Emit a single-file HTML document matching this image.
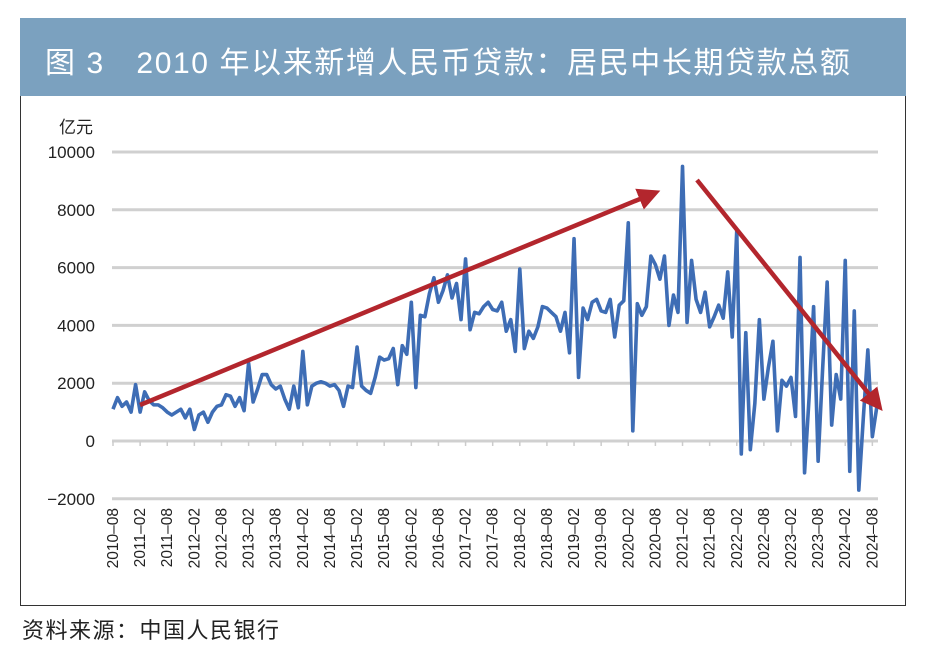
<!DOCTYPE html>
<html><head><meta charset="utf-8"><style>
body{margin:0;width:925px;height:661px;background:#fff;position:relative;overflow:hidden;font-family:"Liberation Sans","Noto Sans CJK SC",sans-serif}
#band{position:absolute;left:20px;top:18px;width:886px;height:78px;background:#7ba1bf}
#title{position:absolute;left:25px;top:20px;color:#fff;font-size:30px;letter-spacing:1.6px;white-space:nowrap}
#frame{position:absolute;left:20px;top:96px;width:884px;height:509px;border:1.5px solid #333;border-top:none}
#src{position:absolute;left:22px;top:613px;font-size:22px;letter-spacing:1.5px;color:#222}
</style></head><body>
<div id="band"><div id="title">图 3　2010 年以来新增人民币贷款：居民中长期贷款总额</div></div>
<div id="frame"></div>
<svg id="chart" width="925" height="661" style="position:absolute;left:0;top:0">
<defs><marker id="ah" markerWidth="5" markerHeight="5" refX="3" refY="2.5" orient="auto" markerUnits="strokeWidth"><path d="M0,0 L5,2.5 L0,5 z" fill="#b3262d"/></marker></defs>
</svg>
<div id="src">资料来源：中国人民银行</div>
<script>
const yTicks=[-2000,0,2000,4000,6000,8000,10000];
const values=[1100,1500,1200,1350,1000,1950,1000,1700,1400,1250,1250,1150,1000,900,1000,1100,800,1100,400,900,1000,650,1000,1200,1250,1600,1550,1200,1500,1050,2700,
1350,1800,2300,2300,1950,1800,1900,1450,1100,1900,1150,3100,
1250,1900,2000,2050,2000,1900,1950,1750,1200,1900,1850,3250,
1900,1750,1650,2200,2900,2800,2850,3200,1950,3300,3000,4800,
1850,4350,4300,5100,5650,4800,5200,5750,4950,5450,4200,6300,
3850,4450,4400,4650,4800,4550,4500,4800,3800,4200,3100,5950,
3200,3800,3550,3950,4650,4600,4450,4300,3800,4450,3050,7000,
2200,4600,4200,4800,4900,4500,4450,4900,3600,4700,4850,7550,350,
4750,4350,4650,6400,6100,5600,6400,4000,5050,4450,9500,
4100,6250,4900,4450,5150,3950,4300,4700,4250,5850,3600,7300,
-450,3750,-300,1300,4200,1450,2550,3450,350,2100,1900,2200,850,
6350,-1100,1500,4650,-700,2500,5500,550,2300,1450,6250,-1050,4500,-1700,800,3150,150,1200];
const xLabels=[];
for(let y=2010;y<=2024;y++){if(y>2010)xLabels.push(y+'-02');xLabels.push(y+'-08');}
const startMonth=[2010,8];
const X0=113,DX=4.52,Y0=441,YS=57.8/2000;
const xs=i=>X0+i*DX, ys=v=>Y0-v*YS;
const ns='http://www.w3.org/2000/svg', svg=document.getElementById('chart');
function mk(t,a){const e=document.createElementNS(ns,t);for(const k in a)e.setAttribute(k,a[k]);svg.appendChild(e);return e;}
yTicks.forEach(v=>{
 const g=mk('line',{x1:112,x2:878,y1:ys(v),y2:ys(v),stroke:'#d0d0d0','stroke-width':3});
 
 
 const t=mk('text',{x:95,y:ys(v)+6,'text-anchor':'end','font-size':17,fill:'#222'});
 t.textContent=v<0?'−'+(-v):v;
 
 
});
const u=mk('text',{x:93,y:133,'text-anchor':'end','font-size':17,fill:'#222'});u.textContent='亿元';


xLabels.forEach((l,i)=>{
 const [yy,mm]=l.split('-').map(Number);
 const idx=(yy-startMonth[0])*12+(mm-startMonth[1]);
 const x=xs(idx);
 const tk=mk('line',{x1:x,x2:x,y1:Y0,y2:Y0+5,stroke:'#ccc','stroke-width':1.5});
 
 
 const t=mk('text',{x:0,y:0,'text-anchor':'end','font-size':15.5,fill:'#222',transform:`translate(${x+5},508) rotate(-90)`});
 t.textContent=l.replace('-','–');
 
 
});
const p=mk('polyline',{points:values.map((v,i)=>xs(i)+','+ys(v)).join(' '),fill:'none',stroke:'#3e6db5','stroke-width':3.6,'stroke-linejoin':'round'});


const a1=mk('line',{x1:140,y1:405,x2:652,y2:194,stroke:'#b3262d','stroke-width':4.5,'marker-end':'url(#ah)'});


const a2=mk('line',{x1:697,y1:180,x2:877,y2:404,stroke:'#b3262d','stroke-width':4.5,'marker-end':'url(#ah)'});


</script>
</body></html>
